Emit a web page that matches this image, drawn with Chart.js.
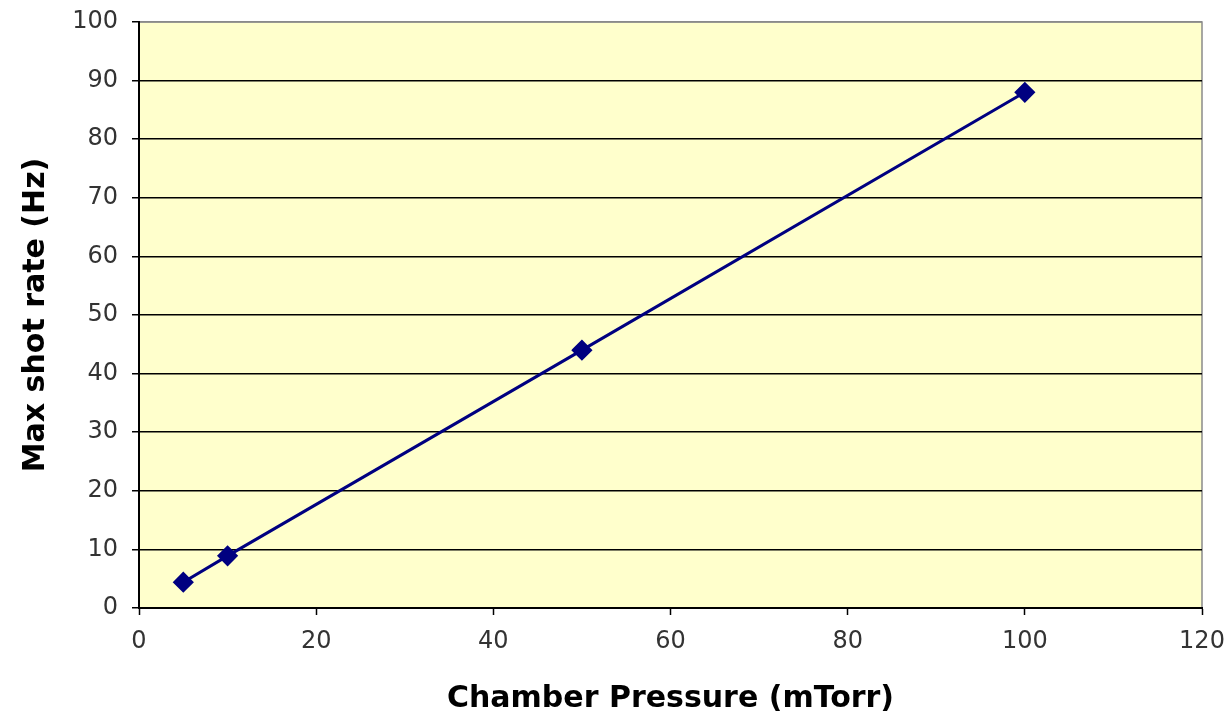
<!DOCTYPE html>
<html>
<head>
<meta charset="utf-8">
<script src="https://cdn.jsdelivr.net/npm/chart.js@4"></script>
<style>
  html, body { margin: 0; padding: 0; background: #fff; }
  #wrap { width: 1230px; height: 717px; }
</style>
</head>
<body>
<div id="wrap"><canvas id="chart"></canvas></div>
<script>
// data
const pressure = [5, 10, 50, 100];          // mTorr
const shotRate = [4.4, 8.9, 44, 88];        // Hz
const xTitle = 'Chamber Pressure (mTorr)';
const yTitle = 'Max shot rate (Hz)';

// yellow plot background + grey frame on top/right
const plotBg = {
  id: 'plotBg',
  beforeDraw(chart) {
    const { ctx, chartArea: a } = chart;
    ctx.save();
    ctx.fillStyle = '#FFFFCC';
    ctx.fillRect(a.left, a.top, a.right - a.left, a.bottom - a.top);
    ctx.strokeStyle = '#8a8a8a';
    ctx.lineWidth = 1.5;
    ctx.beginPath();
    ctx.moveTo(a.left, a.top);
    ctx.lineTo(a.right, a.top);
    ctx.lineTo(a.right, a.bottom);
    ctx.stroke();
    ctx.restore();
  }
};

const tickFont = { family: 'DejaVu Sans', size: 24 };
const titleFont = { family: 'DejaVu Sans', size: 30, weight: 'bold' };

new Chart(document.getElementById('chart'), {
  type: 'scatter',
  data: {
    datasets: [{
      data: pressure.map((x, i) => ({ x, y: shotRate[i] })),
      showLine: true,
      borderColor: '#000080',
      backgroundColor: '#000080',
      borderWidth: 3,
      pointStyle: 'rectRot',
      pointRadius: 8.5,
      pointHoverRadius: 8.5
    }]
  },
  options: {
    responsive: true,
    maintainAspectRatio: false,
    animation: false,
    layout: { padding: { top: 22, right: 28, left: 0, bottom: 0 } },
    plugins: { legend: { display: false }, tooltip: { enabled: false } },
    scales: {
      x: {
        type: 'linear',
        min: 0, max: 120,
        ticks: { stepSize: 20, color: '#333', font: tickFont, padding: 12 },
        grid: { drawOnChartArea: false, tickLength: 7, tickColor: '#000', tickWidth: 1.5 },
        border: { color: '#000', width: 2 },
        title: { display: true, text: xTitle, color: '#000', font: titleFont, padding: { top: 0, bottom: 0 } },
        afterFit(s) { s.height = 109; s.paddingLeft = 0; s.paddingRight = 0; }
      },
      y: {
        min: 0, max: 100,
        ticks: { stepSize: 10, color: '#333', font: tickFont, padding: 14 },
        grid: {
          color: (c) => (c.tick && c.tick.value === 100 ? '#8a8a8a' : '#000'),
          lineWidth: 1.5,
          tickLength: 7,
          tickColor: '#000'
        },
        border: { color: '#000', width: 2 },
        title: { display: true, text: yTitle, color: '#000', font: titleFont, padding: { top: 18, bottom: 0 } },
        afterFit(s) { s.width = 139; s.paddingTop = 0; s.paddingBottom = 0; }
      }
    }
  },
  plugins: [plotBg]
});
</script>
</body>
</html>
